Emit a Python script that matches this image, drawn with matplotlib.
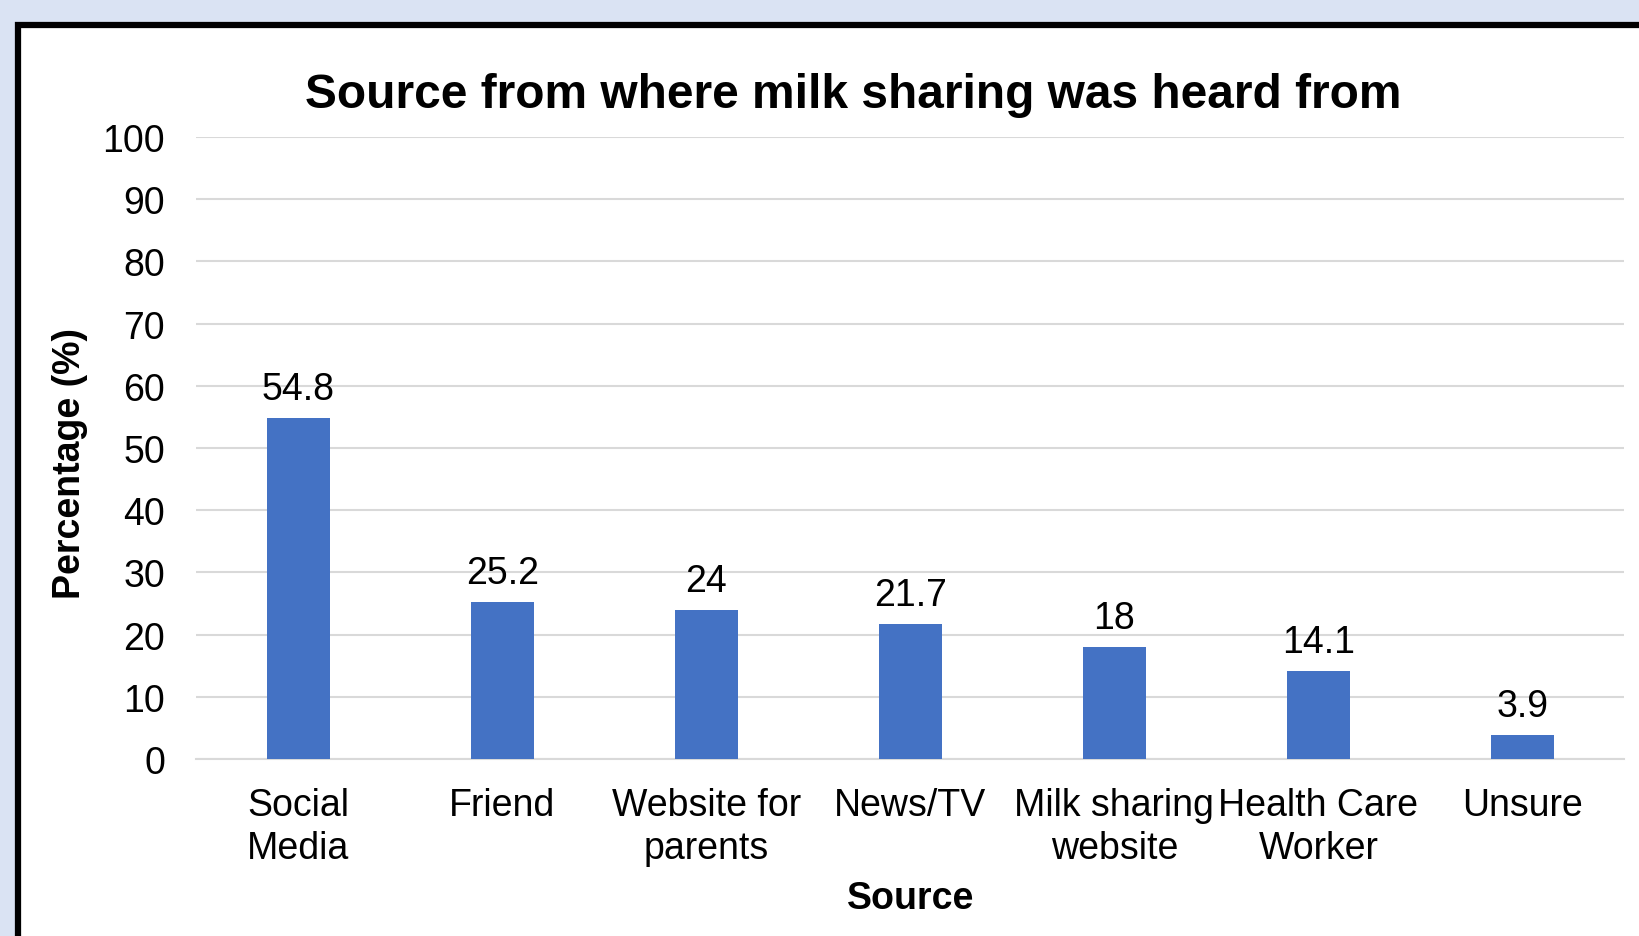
import matplotlib

matplotlib.use("agg")
import matplotlib.pyplot as plt
from matplotlib.patches import Rectangle

categories = [
    "Social\nMedia",
    "Friend",
    "Website for\nparents",
    "News/TV",
    "Milk sharing\nwebsite",
    "Health Care\nWorker",
    "Unsure",
]
values = [54.8, 25.2, 24, 21.7, 18, 14.1, 3.9]
value_labels = ["54.8", "25.2", "24", "21.7", "18", "14.1", "3.9"]
y_ticks = [0, 10, 20, 30, 40, 50, 60, 70, 80, 90, 100]

BAR_COLOR = "#4472C4"
GRID_COLOR = "#D9D9D9"
OUTER_BG = "#DAE3F3"
FS = 27

plt.rcParams["font.family"] = ["Liberation Sans", "DejaVu Sans"]

W, H = 1639, 937
fig = plt.figure(figsize=(W / 100, H / 100), dpi=100, facecolor=OUTER_BG)

# white chart panel with black frame (cut off at right/bottom)
fig.patches.append(
    Rectangle(
        (18 / W, -0.05),
        1.1,
        (H - 26) / H + 0.05,
        transform=fig.transFigure,
        facecolor="white",
        edgecolor="black",
        linewidth=4.5,
        zorder=-5,
    )
)

ax = fig.add_axes([196.3 / W, (H - 760) / H, 1428 / W, (760 - 138) / H])
ax.set_facecolor("none")
ax.set_zorder(2)

x = list(range(len(categories)))
bars = ax.bar(x, values, width=0.31, color=BAR_COLOR, zorder=3)

for xi, v, lab in zip(x, values, value_labels):
    ax.annotate(
        lab,
        (xi, v),
        xytext=(0, 21),
        textcoords="offset points",
        ha="center",
        va="center",
        fontsize=FS,
        color="black",
    )

ax.set_xlim(-0.5, len(categories) - 0.5)
ax.set_ylim(0, 100)
ax.set_yticks(y_ticks)
ax.set_xticks(x)
ax.set_xticklabels(categories, fontsize=FS, linespacing=1.27)
ax.tick_params(axis="x", length=0, pad=20)
ax.tick_params(axis="y", length=0, pad=22.5, labelsize=FS)

ax.grid(True, axis="y", color=GRID_COLOR, linewidth=1.5, zorder=0)
ax.set_axisbelow(True)
for s in ["top", "right", "left"]:
    ax.spines[s].set_visible(False)
ax.spines["bottom"].set_color(GRID_COLOR)
ax.spines["bottom"].set_linewidth(1.5)

ax.set_xlabel("Source", fontsize=FS, fontweight="bold", va="center")
ax.xaxis.set_label_coords(0.5, -0.2235)
ax.set_ylabel("Percentage (%)", fontsize=FS, fontweight="bold")
ax.yaxis.set_label_coords(-0.0755, 0.476)

fig.text(853 / W, (H - 95) / H, "Source from where milk sharing was heard from",
         ha="center", va="center", fontsize=34.5, fontweight="bold")

fig.savefig("out.png", dpi=100, facecolor=OUTER_BG)
plt.close(fig)
